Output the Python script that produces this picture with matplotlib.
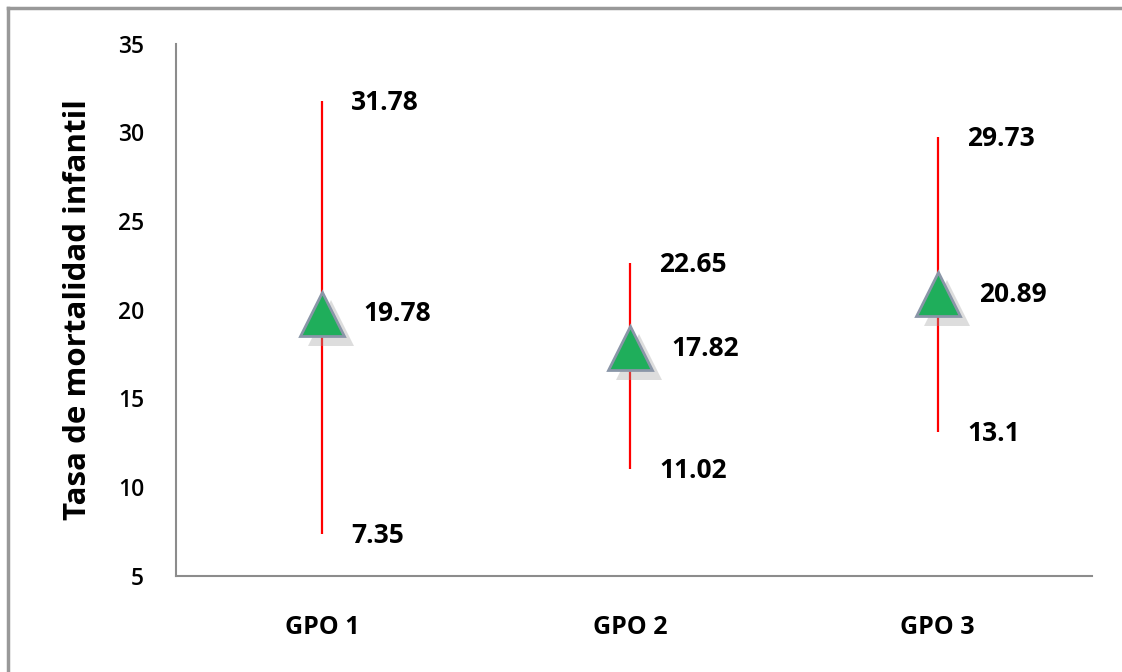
import matplotlib
matplotlib.use("Agg")
import matplotlib.pyplot as plt
from matplotlib.lines import Line2D

plt.rcParams['font.family'] = ['Open Sans', 'DejaVu Sans']

grupos = ['GPO 1', 'GPO 2', 'GPO 3']
altos = [31.78, 22.65, 29.73]
bajos = [7.35, 11.02, 13.1]
cierres = [19.78, 17.82, 20.89]

fig = plt.figure(figsize=(11.22, 6.72), dpi=100)
ax = fig.add_axes([0.157, 0.143, 0.816, 0.792])

x = list(range(len(grupos)))

# lineas alto-bajo
ax.vlines(x, bajos, altos, color='#ff0000', linewidth=1.6, zorder=2)

# sombra y triangulos
ax.plot([i + 0.03 for i in x], [c - 0.5 for c in cierres], linestyle='none',
        marker='^', markersize=33, color='#a0a0a0', alpha=0.35,
        markeredgewidth=0, zorder=3)
ax.plot(x, cierres, linestyle='none', marker='^', markersize=31,
        markerfacecolor='#1fae5b', markeredgecolor='#8a96a8',
        markeredgewidth=2, zorder=4)

# etiquetas de datos
for i in x:
    ax.annotate(f'{altos[i]:g}', (i, altos[i]), xytext=(21, -1),
                textcoords='offset points', ha='left', va='center',
                fontsize=19, fontweight='bold')
    ax.annotate(f'{bajos[i]:g}', (i, bajos[i]), xytext=(21, -1),
                textcoords='offset points', ha='left', va='center',
                fontsize=19, fontweight='bold')
    ax.annotate(f'{cierres[i]:g}', (i, cierres[i]), xytext=(30, 0),
                textcoords='offset points', ha='left', va='center',
                fontsize=19, fontweight='bold')

ax.set_xlim(-0.474, 2.5)
ax.set_ylim(5, 35)
ax.set_yticks([5, 10, 15, 20, 25, 30, 35])
ax.set_xticks(x)
ax.set_xticklabels(grupos, fontweight='bold', fontsize=18)
ax.tick_params(axis='y', length=0, pad=23, labelsize=16.5)
ax.tick_params(axis='x', length=0, pad=28)
for lab in ax.get_yticklabels():
    lab.set_fontweight('semibold')

ax.set_ylabel('Tasa de mortalidad infantil', fontsize=22.5, fontweight='bold',
              labelpad=18)

for s in ['top', 'right']:
    ax.spines[s].set_visible(False)
for s in ['left', 'bottom']:
    ax.spines[s].set_color('#8c8c8c')
    ax.spines[s].set_linewidth(1.5)

# marco exterior
x0 = 8 / 1122
y0 = 1 - 8 / 672
fig.add_artist(Line2D([x0, 1], [y0, y0], transform=fig.transFigure,
                      color='#999999', linewidth=2.5))
fig.add_artist(Line2D([x0, x0], [0, y0], transform=fig.transFigure,
                      color='#999999', linewidth=2.5))

fig.savefig('out.png', dpi=100)
